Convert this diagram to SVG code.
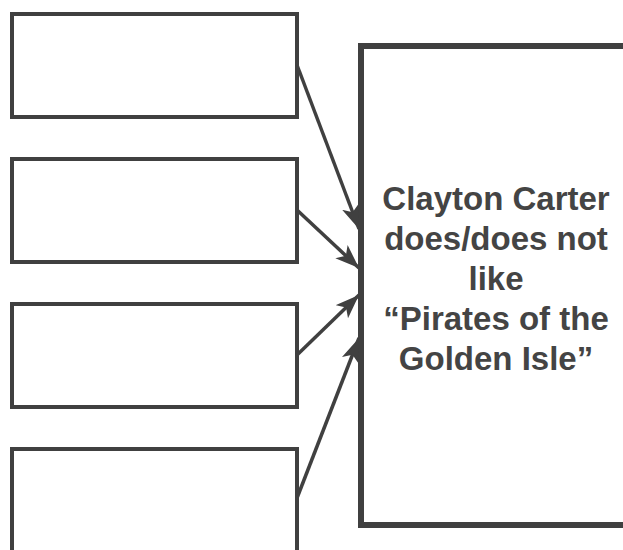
<svg xmlns="http://www.w3.org/2000/svg" width="623" height="550" viewBox="0 0 623 550">
<style>
.box{fill:#fff;stroke:#404040;stroke-width:4}
.big{fill:#fff;stroke:#404040;stroke-width:6}
.arr{stroke:#404040;stroke-width:3.5;fill:none}
.t{font-family:"Liberation Sans",Arial,sans-serif;font-weight:bold;font-size:33px;fill:#444;text-anchor:middle}
</style>
<defs>
<marker id="ah" markerUnits="userSpaceOnUse" markerWidth="26" markerHeight="20" refX="24" refY="9" orient="auto">
<path d="M0,0 L24,9 L0,18 L6,9 z" fill="#404040"/>
</marker>
</defs>
<rect width="623" height="550" fill="#fff"/>
<g id="box1"><rect class="box" x="12" y="14" width="285" height="103"/></g>
<g id="box2"><rect class="box" x="12" y="159" width="285" height="103"/></g>
<g id="box3"><rect class="box" x="12" y="304" width="285" height="103"/></g>
<g id="box4"><rect class="box" x="12" y="449" width="285" height="120"/></g>
<g id="main">
<rect class="big" x="361" y="46" width="290" height="479"/>
<text class="t" x="496" y="210">Clayton Carter</text>
<text class="t" x="496" y="250">does/does not</text>
<text class="t" x="496" y="290">like</text>
<text class="t" x="496" y="330">“Pirates of the</text>
<text class="t" x="496" y="370">Golden Isle”</text>
</g>
<g id="connectors">
<line class="arr" x1="297" y1="65" x2="359" y2="229" marker-end="url(#ah)"/>
<line class="arr" x1="297" y1="210" x2="359" y2="268" marker-end="url(#ah)"/>
<line class="arr" x1="297" y1="355" x2="359" y2="295" marker-end="url(#ah)"/>
<line class="arr" x1="297" y1="498" x2="359" y2="338" marker-end="url(#ah)"/>
</g>
</svg>
